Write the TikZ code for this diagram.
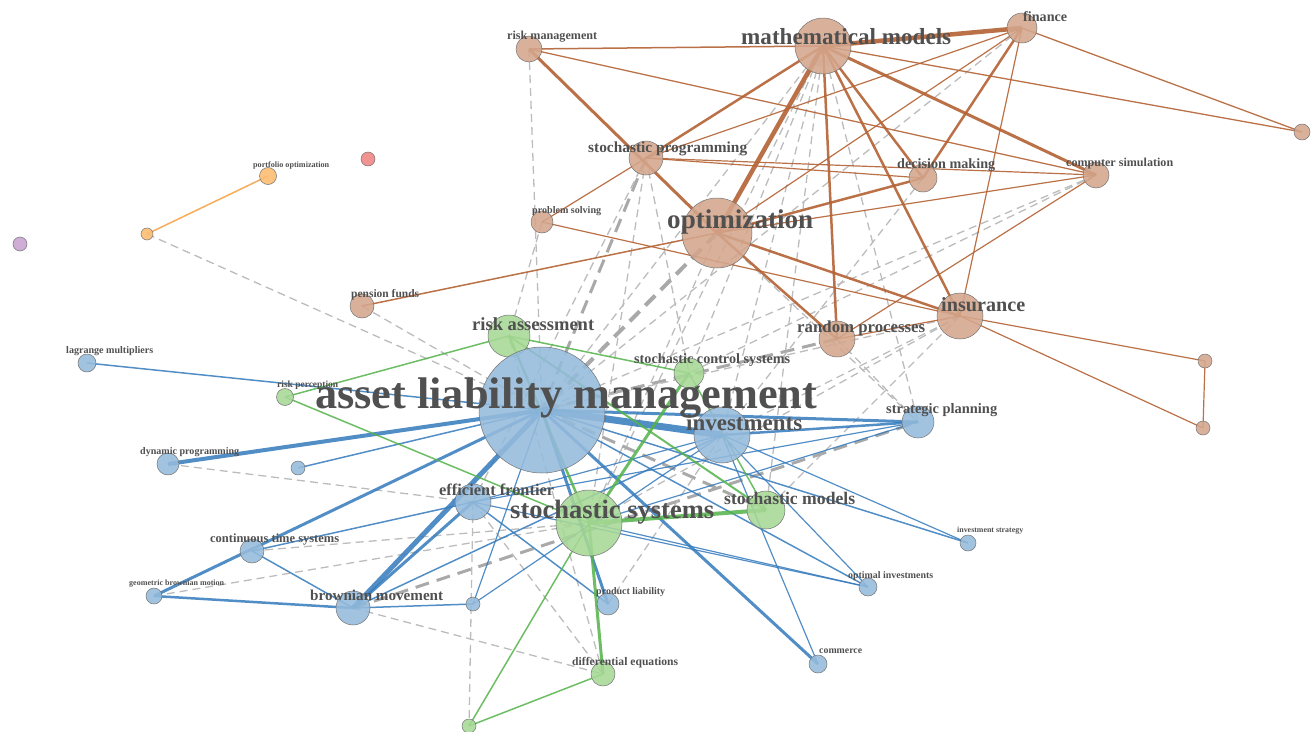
\documentclass[tikz,border=0pt]{standalone}
\usepackage{fontspec}
\setmainfont{Liberation Serif}
\usepackage{graphicx}
\definecolor{brownF}{RGB}{212,166,140}
\definecolor{blueF}{RGB}{148,187,220}
\definecolor{greenF}{RGB}{166,216,150}
\definecolor{orangeF}{RGB}{253,188,112}
\definecolor{redF}{RGB}{238,132,130}
\definecolor{purpleF}{RGB}{200,162,210}
\definecolor{brownE}{RGB}{180,98,52}
\definecolor{blueE}{RGB}{52,122,188}
\definecolor{greenE}{RGB}{82,178,72}
\definecolor{grayE}{RGB}{188,188,188}
\definecolor{orangeE}{RGB}{248,172,90}
\definecolor{labC}{RGB}{80,80,80}
\pgfdeclarelayer{edges}
\pgfsetlayers{edges,main}
\newcommand{\edg}[4]{\draw[#1,line width=#2pt] (#3.center) -- (#4.center);}
\newcommand{\lbl}[4]{\node[lab] (#1) at (#2) {\resizebox{#3pt}{!}{#4}};}
\begin{document}
\begin{tikzpicture}[x=1pt,y=-1pt,
  nd/.style={circle,draw=black!55,line width=0.5pt,inner sep=0pt,fill opacity=0.88},
  brn/.style={nd,fill=brownF,minimum size=#1pt},
  blu/.style={nd,fill=blueF,minimum size=#1pt},
  grn/.style={nd,fill=greenF,minimum size=#1pt},
  org/.style={nd,fill=orangeF,minimum size=#1pt},
  rdn/.style={nd,fill=redF,minimum size=#1pt},
  prp/.style={nd,fill=purpleF,minimum size=#1pt},
  be/.style={brownE,opacity=0.9},
  bl/.style={blueE,opacity=0.85},
  gr/.style={greenE,opacity=0.85},
  oe/.style={orangeE},
  gd/.style={grayE,dash pattern=on 8pt off 5pt},
  gdt/.style={grayE!90!black,dash pattern=on 14pt off 8pt},
  lab/.style={anchor=base west,inner sep=0pt,text=labC,font=\bfseries}]
\useasboundingbox (0,0) rectangle (1314,731);
% ---------- nodes ----------
\node[brn=56] (mm) at (823,46) {};
\node[brn=30] (fin) at (1022,28) {};
\node[brn=26] (rm) at (529,49) {};
\node[brn=34] (sp) at (646,158) {};
\node[brn=70] (opt) at (717,233) {};
\node[brn=28] (dm) at (923,178) {};
\node[brn=26] (cs) at (1096,175) {};
\node[brn=22] (ps) at (542,222) {};
\node[brn=24] (pf) at (362,306) {};
\node[brn=46] (ins) at (960,316) {};
\node[brn=36] (rp) at (837,339) {};
\node[brn=16] (fr) at (1302,132) {};
\node[brn=14] (r1) at (1205,361) {};
\node[brn=14] (r2) at (1203,428) {};
\node[org=17] (po) at (268,176) {};
\node[org=12] (os) at (147,234) {};
\node[rdn=14] (red) at (368,159) {};
\node[prp=14] (pur) at (20,244) {};
\node[grn=42] (ra) at (509,336) {};
\node[grn=30] (sc) at (689,373) {};
\node[grn=17] (rpc) at (285,397) {};
\node[blu=126] (alm) at (542,410) {};
\node[blu=56] (inv) at (722,435) {};
\node[blu=32] (spl) at (918,422) {};
\node[blu=18] (lm) at (87,363) {};
\node[blu=22] (dp) at (168,464) {};
\node[blu=14] (sb1) at (298,468) {};
\node[blu=36] (ef) at (473,502) {};
\node[grn=66] (ss) at (589,523) {};
\node[grn=38] (sm) at (766,510) {};
\node[blu=24] (ct) at (252,551) {};
\node[blu=16] (gbm) at (154,596) {};
\node[blu=34] (bm) at (353,608) {};
\node[blu=14] (sb2) at (473,604) {};
\node[blu=22] (pl) at (608,604) {};
\node[blu=16] (is) at (968,543) {};
\node[blu=18] (oi) at (868,587) {};
\node[blu=18] (com) at (818,664) {};
\node[grn=24] (de) at (603,674) {};
\node[grn=14] (bg) at (469,726) {};
% ---------- edges ----------
\begin{pgfonlayer}{edges}
% gray dashed
\edg{gd}{1.3}{rm}{alm}
\edg{gd}{1.3}{ps}{ra}
\edg{gdt}{3}{sp}{alm}
\edg{gd}{1.3}{sp}{sc}
\edg{gd}{1.3}{sp}{ss}
\edg{gd}{1.3}{sp}{ef}
\edg{gdt}{4}{opt}{alm}
\edg{gd}{1.3}{opt}{ss}
\edg{gd}{1.3}{opt}{spl}
\edg{gd}{1.3}{mm}{alm}
\edg{gd}{1.3}{mm}{ss}
\edg{gd}{1.3}{mm}{inv}
\edg{gd}{1.3}{mm}{sc}
\edg{gd}{1.3}{mm}{sm}
\edg{gd}{1.3}{mm}{spl}
\edg{gd}{1.3}{fin}{alm}
\edg{gd}{1.3}{cs}{alm}
\edg{gd}{1.3}{cs}{sc}
\edg{gdt}{3}{rp}{alm}
\edg{gd}{1.3}{rp}{spl}
\edg{gd}{1.3}{dm}{inv}
\edg{gd}{1.3}{ins}{alm}
\edg{gd}{1.3}{ins}{inv}
\edg{gd}{1.3}{ins}{ss}
\edg{gd}{1.3}{ins}{sm}
\edg{gd}{1.3}{pf}{alm}
\edg{gd}{1.3}{os}{alm}
\edg{gd}{1.3}{dp}{ef}
\edg{gd}{1.3}{ct}{ss}
\edg{gd}{1.3}{gbm}{ss}
\edg{gd}{1.3}{bm}{de}
\edg{gdt}{3}{bm}{spl}
\edg{gd}{1.3}{ef}{bg}
\edg{gdt}{3}{alm}{sm}
\edg{gd}{1.3}{de}{ef}
\edg{gd}{1.3}{pl}{inv}
\edg{gd}{1.3}{de}{ra}
% brown
\edg{be}{4.5}{mm}{fin}
\edg{be}{1.5}{mm}{rm}
\edg{be}{2.5}{mm}{sp}
\edg{be}{4.5}{mm}{opt}
\edg{be}{2.5}{mm}{rp}
\edg{be}{2.5}{mm}{ins}
\edg{be}{2.5}{mm}{dm}
\edg{be}{3}{mm}{cs}
\edg{be}{1.3}{mm}{fr}
\edg{be}{1.3}{fin}{fr}
\edg{be}{2.5}{fin}{dm}
\edg{be}{1.2}{fin}{ins}
\edg{be}{1.2}{fin}{opt}
\edg{be}{1.2}{fin}{sp}
\edg{be}{3}{rm}{opt}
\edg{be}{1.3}{rm}{cs}
\edg{be}{1.2}{sp}{dm}
\edg{be}{1.2}{sp}{cs}
\edg{be}{1.2}{sp}{ps}
\edg{be}{2.5}{opt}{dm}
\edg{be}{1.2}{opt}{cs}
\edg{be}{2.5}{opt}{ins}
\edg{be}{2.5}{opt}{rp}
\edg{be}{1.5}{opt}{pf}
\edg{be}{1.2}{ps}{ins}
\edg{be}{1.2}{rp}{ins}
\edg{be}{1.2}{cs}{rp}
\edg{be}{1.2}{ins}{r1}
\edg{be}{1.2}{ins}{r2}
\edg{be}{1.2}{r1}{r2}
% orange
\edg{oe}{1.5}{po}{os}
% blue
\edg{bl}{7}{alm}{inv}
\edg{bl}{3}{alm}{spl}
\edg{bl}{2.5}{inv}{spl}
\edg{bl}{1.2}{ef}{spl}
\edg{bl}{1.2}{ss}{spl}
\edg{bl}{1.5}{alm}{lm}
\edg{bl}{4}{alm}{dp}
\edg{bl}{1.5}{alm}{sb1}
\edg{bl}{3}{alm}{gbm}
\edg{bl}{5}{alm}{bm}
\edg{bl}{3}{ef}{bm}
\edg{bl}{3}{alm}{pl}
\edg{bl}{3}{alm}{com}
\edg{bl}{1.5}{alm}{is}
\edg{bl}{1.5}{alm}{oi}
\edg{bl}{1.5}{ct}{ef}
\edg{bl}{1.5}{ct}{bm}
\edg{bl}{2.5}{gbm}{bm}
\edg{bl}{1.5}{bm}{sb2}
\edg{bl}{1.5}{bm}{inv}
\edg{bl}{1.2}{sb2}{inv}
\edg{bl}{1.2}{sb2}{alm}
\edg{bl}{1.2}{ef}{inv}
\edg{bl}{1.2}{ef}{oi}
\edg{bl}{1.5}{ef}{pl}
\edg{bl}{1.2}{inv}{is}
\edg{bl}{1.2}{inv}{oi}
\edg{bl}{1.2}{inv}{com}
\edg{bl}{1.2}{ss}{oi}
% green
\edg{gr}{1.5}{ra}{rpc}
\edg{gr}{1.5}{ra}{sc}
\edg{gr}{2.5}{ra}{ss}
\edg{gr}{2}{ra}{sm}
\edg{gr}{1.5}{rpc}{ss}
\edg{gr}{3}{sc}{ss}
\edg{gr}{1.5}{sc}{sm}
\edg{gr}{4}{ss}{sm}
\edg{gr}{3}{ss}{de}
\edg{gr}{1.5}{ss}{bg}
\edg{gr}{1.5}{de}{bg}
\end{pgfonlayer}
% ---------- labels ----------
\lbl{l1}{741,44}{210}{mathematical models}
\lbl{l2}{1023,21}{44}{finance}
\lbl{l3}{507,39}{90}{risk management}
\lbl{l4}{588,152}{159}{stochastic programming}
\lbl{l5}{667,228}{146}{optimization}
\lbl{l6}{897,168}{98}{decision making}
\lbl{l7}{1066,166}{107}{computer simulation}
\lbl{l8}{532,213}{69}{problem solving}
\lbl{l9}{351,297}{68}{pension funds}
\lbl{l10}{941,311}{84}{insurance}
\lbl{l11}{797,332}{128}{random processes}
\lbl{l12}{253,167}{76}{portfolio optimization}
\lbl{l13}{472,330}{122}{risk assessment}
\lbl{l14}{634,363}{156}{stochastic control systems}
\lbl{l15}{277,387}{61}{risk perception}
\lbl{l16}{315,408}{502}{asset liability management}
\lbl{l17}{686,430}{116}{investments}
\lbl{l18}{886,413}{111}{strategic planning}
\lbl{l19}{66,353}{87}{lagrange multipliers}
\lbl{l20}{140,454}{99}{dynamic programming}
\lbl{l21}{439,495}{115}{efficient frontier}
\lbl{l22}{510,518}{204}{stochastic systems}
\lbl{l23}{724,504}{131}{stochastic models}
\lbl{l24}{210,542}{129}{continuous time systems}
\lbl{l25}{129,585}{95}{geometric brownian motion}
\lbl{l26}{310,600}{133}{brownian movement}
\lbl{l27}{596,594}{69}{product liability}
\lbl{l28}{957,532}{66}{investment strategy}
\lbl{l29}{848,578}{85}{optimal investments}
\lbl{l30}{819,653}{43}{commerce}
\lbl{l31}{572,665}{106}{differential equations}
\end{tikzpicture}
\end{document}
